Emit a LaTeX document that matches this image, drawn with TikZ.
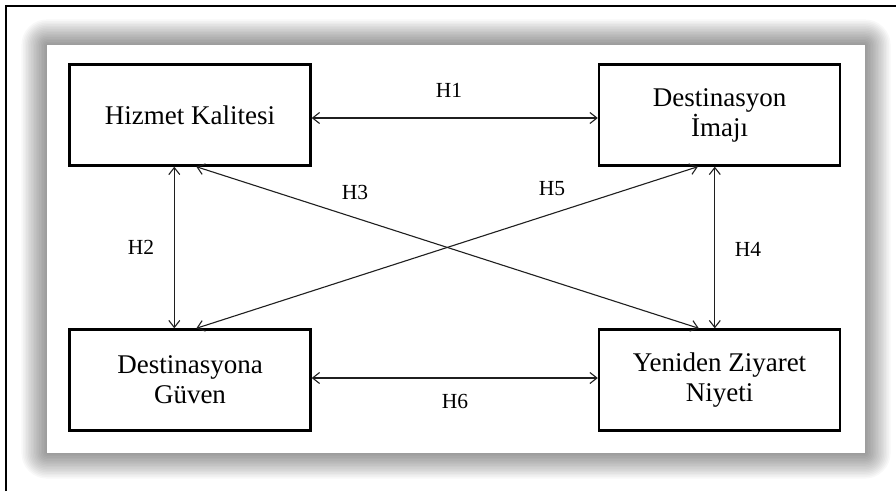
\documentclass[tikz,border=0pt]{standalone}
\usepackage{fontspec}
\setmainfont{Liberation Serif}
\usetikzlibrary{arrows.meta,calc}
\tikzset{
  conbox/.style={draw=black, line width=2.4pt, fill=white, minimum width=241pt, minimum height=101pt, align=center, inner sep=2pt, font=\fontsize{27}{30}\selectfont},
  hyp/.style={draw=black!88, line width=1.1pt, {Straight Barb[length=7pt,width=11pt]}-{Straight Barb[length=7pt,width=11pt]}},
  hlabel/.style={font=\fontsize{21.5}{23}\selectfont, inner sep=0pt}
}
\begin{document}
\begin{tikzpicture}[x=1pt,y=-1pt]
\useasboundingbox (0,0) rectangle (896,491);
\fill[white] (0,0) rectangle (896,491);
% outer frame (only left and top visible)
\draw[line width=2pt] (6,491) -- (6,6) -- (896,6);
% soft shadow of panel
\foreach \i in {1,...,16}{
  \pgfmathsetmacro{\d}{\i*1.6}
  \fill[black, fill opacity=0.026, rounded corners=\d pt]
    ($(47,45)+(-\d,-\d)$) rectangle ($(865,453)+(\d,\d)$);
}
\fill[white] (47,45) rectangle (865,453);
% boxes
\node[conbox] (hk) at (190,115) {Hizmet Kalitesi};
\node[conbox] (di) at (719.5,115) {Destinasyon\\İmajı};
\node[conbox] (dg) at (190,380) {Destinasyona\\Güven};
\node[conbox] (yz) at (719.5,380) {Yeniden Ziyaret\\Niyeti};
% connectors
\draw[hyp] ([yshift=-3pt]hk.east) -- ([yshift=-3pt]di.west);
\draw[hyp] ([xshift=106pt]hk.south west) -- ([xshift=106pt]dg.north west);
\draw[hyp] ([xshift=117pt]di.south west) -- ([xshift=117pt]yz.north west);
\draw[hyp] ([yshift=2pt]dg.east) -- ([yshift=2pt]yz.west);
\draw[hyp] ([xshift=128pt]hk.south west) -- ([xshift=101pt]yz.north west);
\draw[hyp] ([xshift=128pt]dg.north west) -- ([xshift=100pt]di.south west);
% labels
\node[hlabel] (l1) at (449,90) {H1};
\node[hlabel] (l2) at (141,247) {H2};
\node[hlabel] (l3) at (355,192) {H3};
\node[hlabel] (l4) at (748,249) {H4};
\node[hlabel] (l5) at (552,189) {H5};
\node[hlabel] (l6) at (455,401) {H6};
\end{tikzpicture}
\end{document}
